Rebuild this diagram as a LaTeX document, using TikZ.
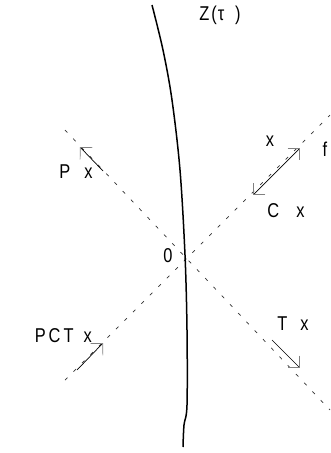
\documentclass[tikz,border=0pt]{standalone}
\usepackage{fontspec}
\setmainfont{Liberation Sans}
\newfontfamily\lblfont[FakeStretch=0.82]{Liberation Sans}
\usetikzlibrary{arrows.meta, positioning}

\begin{document}
\begin{tikzpicture}[x=1pt,y=-1pt,
  cone/.style={black!80, line width=0.7pt, dash pattern=on 3.5pt off 8.5pt},
  vec/.style={-{Straight Barb[angle=90:12pt,color=gray,line width=0.7pt]}, line width=0.7pt, line join=miter},
  lbl/.style={inner sep=0pt, font=\lblfont\fontsize{20}{24}\selectfont}]
  \useasboundingbox (0,0) rectangle (330,453);

  % light cone through the origin
  \coordinate (ul) at (65,130);
  \coordinate (lr) at (330,410);
  \coordinate (ll) at (65,380);
  \coordinate (ur) at (330,115);
  \draw[cone] (ul) -- (lr);
  \draw[cone] (ll) -- (ur);

  % world line
  \draw[line width=1.5pt] plot[smooth, tension=0.55] coordinates {(152,5) (163,50) (172,100) (180,170) (185,255) (187,330) (187,405) (184,425) (183,447)};

  % vectors
  \coordinate (c0) at (277,171);
  \coordinate (c1) at (300,148);
  \coordinate (c2) at (253,195);
  \coordinate (p0) at (103,171);
  \coordinate (p1) at (80,147);
  \coordinate (pct0) at (77,370);
  \coordinate (pct1) at (103,343);
  \coordinate (t0) at (272,340);
  \coordinate (t1) at (300,368);
  \draw[vec] (c0) -- (c1);
  \draw[vec] (c0) -- (c2);
  \draw[vec] (p0) -- (p1);
  \draw[vec] (pct0) -- (pct1);
  \draw[vec] (t0) -- (t1);

  % labels
  \node[lbl] (ztau) at (220,15) {Z\hspace{2pt}(\hspace{1pt}τ\hspace{11pt})};
  \node[lbl] (xf) at (270,141) {x};
  \node[lbl] (f) at (325,149) {f};
  \node[lbl] (cx) at (286,211) {C\hspace{17pt}x};
  \node[lbl] (px) at (76,172) {P\hspace{14pt}x};
  \node[lbl] (orig) at (168,256) {0};
  \node[lbl, anchor=base east] (pctx) at (92,342) {P\hspace{3pt}C\hspace{3pt}T\hspace{10pt}x};
  \node[lbl] (tx) at (293,324) {T\hspace{13pt}x};
\end{tikzpicture}
\end{document}
